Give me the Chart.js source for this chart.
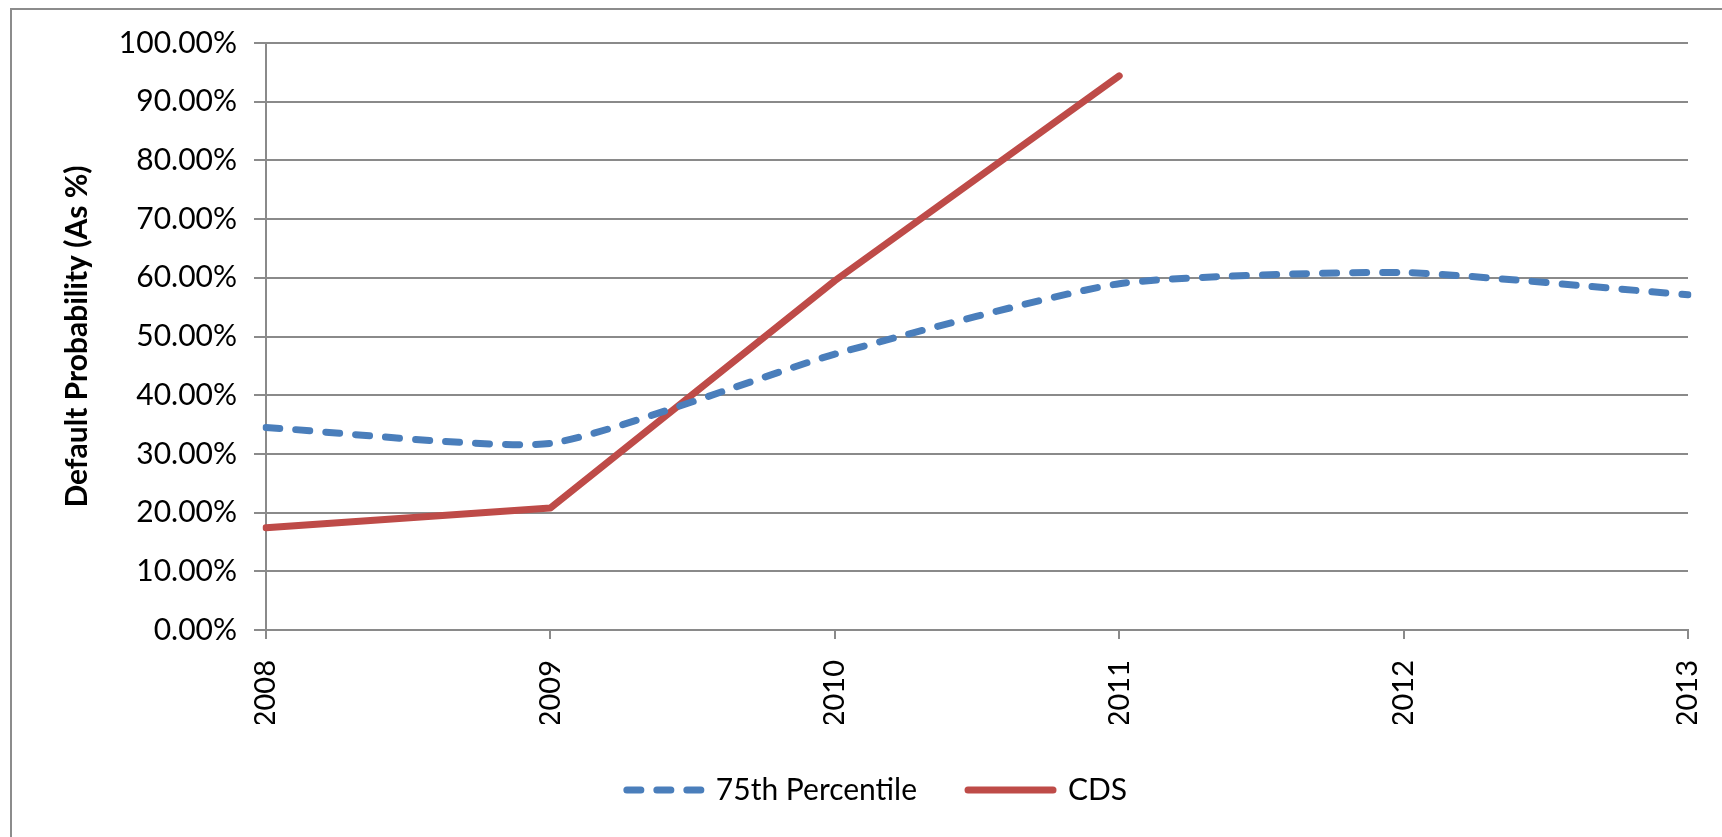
<!DOCTYPE html>
<html>
<head>
<meta charset="utf-8">
<title>Default Probability</title>
<script src="https://cdn.jsdelivr.net/npm/chart.js@4.4.1/dist/chart.umd.min.js"></script>
<style>
  html, body { margin: 0; padding: 0; background: #ffffff; overflow: hidden; }
  #wrap { position: relative; width: 1722px; height: 837px; }
  #chart { position: absolute; left: 0; top: 0; }
  /* chart-area frame; runs past the right and bottom edges of the view */
  #frame {
    position: absolute; left: 10px; top: 8px; width: 1800px; height: 900px;
    border: 2px solid #8c8c8c; box-sizing: border-box; pointer-events: none;
  }
</style>
</head>
<body>
<div id="wrap">
  <canvas id="chart" width="1722" height="837"></canvas>
  <div id="frame"></div>
</div>
<script>
// Years on the category axis
const years = ['2008', '2009', '2010', '2011', '2012', '2013'];

// Default probability, in percent
const percentile75 = [34.5, 31.8, 47.0, 59.0, 60.9, 57.1];
const cds = [17.4, 20.8, 59.5, 94.4, null, null];

// Value-axis ticks (percent)
const yTicks = [0, 10, 20, 30, 40, 50, 60, 70, 80, 90, 100];

const seriesNames = ['75th Percentile', 'CDS'];

const GRID = '#8a8a8a';
const BLUE = '#4a7ebb';
const RED = '#be4b48';
const FONT = 'Lato';

Chart.defaults.font.family = FONT;
Chart.defaults.color = '#000000';

new Chart(document.getElementById('chart'), {
  type: 'line',
  data: {
    labels: years,
    datasets: [
      {
        label: seriesNames[0],
        data: percentile75,
        borderColor: BLUE,
        backgroundColor: BLUE,
        borderWidth: 7,
        borderDash: [14, 16],
        borderCapStyle: 'round',
        borderJoinStyle: 'round',
        tension: 0.18,
        pointRadius: 0,
        pointHoverRadius: 0,
        fill: false
      },
      {
        label: seriesNames[1],
        data: cds,
        borderColor: RED,
        backgroundColor: RED,
        borderWidth: 7,
        borderCapStyle: 'round',
        borderJoinStyle: 'round',
        tension: 0,
        pointRadius: 0,
        pointHoverRadius: 0,
        spanGaps: false,
        fill: false
      }
    ]
  },
  options: {
    responsive: false,
    animation: false,
    devicePixelRatio: 1,
    layout: { padding: { left: 55, right: 34, top: 43, bottom: 22 } },
    plugins: {
      tooltip: { enabled: false },
      legend: {
        position: 'bottom',
        labels: {
          usePointStyle: true,
          pointStyleWidth: 85,
          boxHeight: 30,
          padding: 51,
          color: '#000000',
          font: { family: FONT, size: 30 },
          generateLabels(chart) {
            return chart.data.datasets.map((ds, i) => ({
              text: ds.label,
              fillStyle: 'rgba(0,0,0,0)',
              strokeStyle: ds.borderColor,
              lineWidth: ds.borderWidth,
              lineDash: ds.borderDash || [],
              lineDashOffset: ds.borderDash ? 19 : 0,
              lineCap: 'round',
              lineJoin: 'round',
              pointStyle: 'line',
              fontColor: '#000000',
              hidden: false,
              datasetIndex: i
            }));
          }
        }
      }
    },
    scales: {
      x: {
        offset: false,
        ticks: {
          autoSkip: false,
          minRotation: 90,
          maxRotation: 90,
          padding: 21,
          color: '#000000',
          font: { family: FONT, size: 29 }
        },
        grid: {
          drawOnChartArea: false,
          drawTicks: true,
          tickLength: 9,
          color: GRID,
          lineWidth: 2
        },
        border: { display: true, color: GRID, width: 2 },
        afterFit(scale) {
          scale.height = 94;
          scale.paddingLeft = 0;
          scale.paddingRight = 0;
        }
      },
      y: {
        min: 0,
        max: 100,
        afterBuildTicks(scale) { scale.ticks = yTicks.map(v => ({ value: v })); },
        ticks: {
          padding: 17,
          color: '#000000',
          font: { family: FONT, size: 30 },
          callback: v => Number(v).toFixed(2) + '%'
        },
        grid: {
          color: GRID,
          lineWidth: 2,
          tickLength: 12,
          drawTicks: true
        },
        border: { display: true, color: GRID, width: 2 },
        title: {
          display: true,
          text: 'Default Probability (As %)',
          color: '#000000',
          font: { family: FONT, size: 30, weight: 'bold', lineHeight: 0.8 },
          padding: { top: 10, bottom: 0 }
        },
        afterFit(scale) { scale.width = 211; }
      }
    }
  }
});
</script>
</body>
</html>
